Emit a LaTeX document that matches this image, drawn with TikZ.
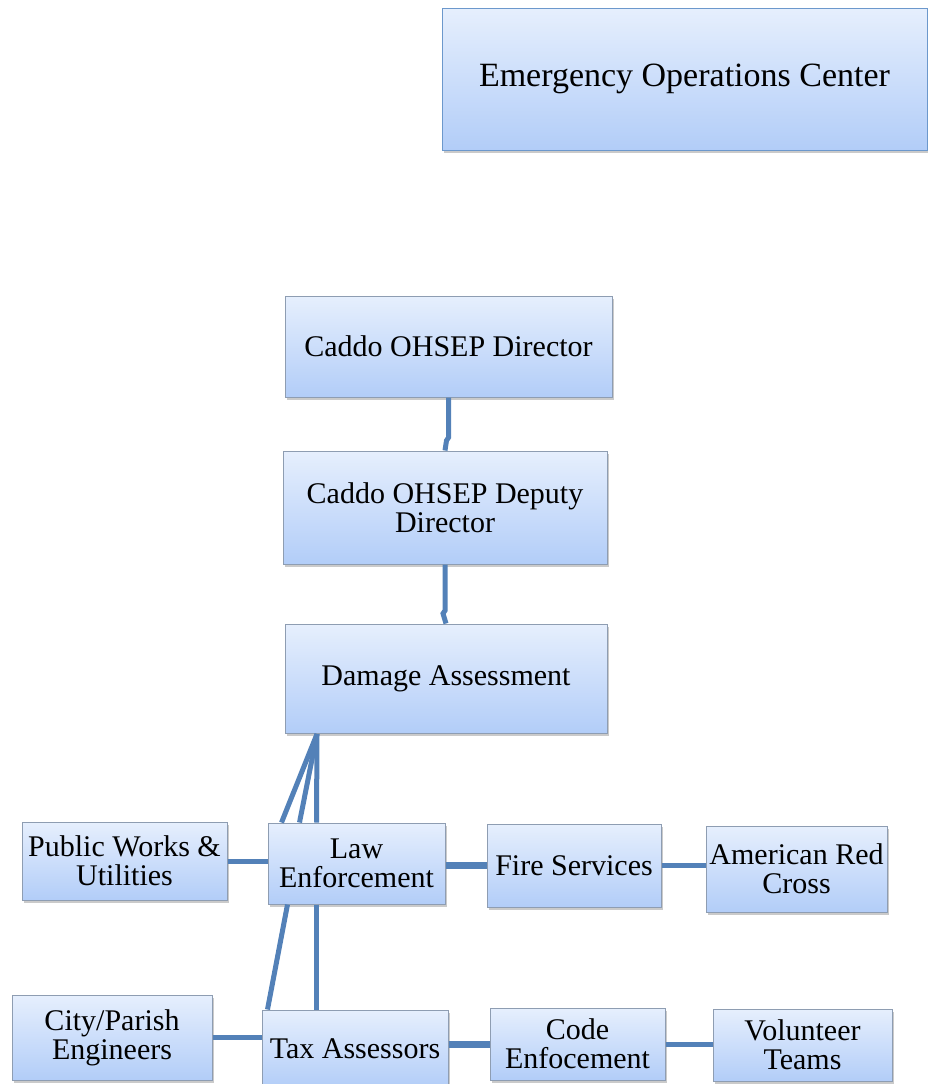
\documentclass[tikz,border=0pt]{standalone}
\usepackage{fontspec}
\setmainfont{Liberation Serif}
\usetikzlibrary{shadows}
\definecolor{conncol}{HTML}{5381B8}
\definecolor{boxtop}{HTML}{E6EFFD}
\definecolor{boxbot}{HTML}{B2CDF8}
\definecolor{boxline}{HTML}{8E9DB2}
\definecolor{eocline}{HTML}{6C98CC}
\tikzset{
  box/.style={rectangle, draw=boxline, line width=1pt, top color=boxtop, bottom color=boxbot,
    align=center, inner sep=0pt, font=\fontsize{30}{29}\selectfont,
    drop shadow={shadow xshift=1.5pt, shadow yshift=-3pt, opacity=0.35, fill=black!60}},
  conn/.style={draw=conncol, line width=5pt},
  thickconn/.style={draw=conncol, line width=7pt}
}
\begin{document}
\begin{tikzpicture}[x=1pt,y=-1pt]
\useasboundingbox (0,0) rectangle (928,1084);
% nodes
\node[box, draw=eocline, minimum width=485pt, minimum height=142pt, font=\fontsize{34}{34}\selectfont] (eoc) at (684.5,79) {Emergency Operations Center};
\node[box, minimum width=327pt, minimum height=101pt] (dir) at (448.5,346.5) {Caddo OHSEP Director};
\node[box, minimum width=324pt, minimum height=113pt] (dep) at (445,507.5) {Caddo OHSEP Deputy\\Director};
\node[box, minimum width=322pt, minimum height=109pt] (dam) at (446,678.5) {Damage Assessment};
\node[box, minimum width=205pt, minimum height=78pt] (pw) at (124.5,861) {Public Works \&\\Utilities};
\node[box, minimum width=177pt, minimum height=81pt] (law) at (356.5,863.5) {Law\\Enforcement};
\node[box, minimum width=174pt, minimum height=83pt] (fire) at (574,865.5) {Fire Services};
\node[box, minimum width=181pt, minimum height=86pt] (rc) at (796.5,869) {American Red\\Cross};
\node[box, minimum width=200pt, minimum height=85pt] (city) at (112,1037.5) {City/Parish\\Engineers};
\node[box, minimum width=186pt, minimum height=78pt] (tax) at (355,1049) {Tax Assessors};
\node[box, minimum width=175pt, minimum height=72pt] (code) at (577.5,1044) {Code\\Enfocement};
\node[box, minimum width=179pt, minimum height=72pt] (vol) at (802.5,1045) {Volunteer\\Teams};
\coordinate (dl) at (317,734);
% connectors
\draw[conn] (dir.south) -- ++(0,40) -- ++(-2,3) -- (dep.north);
\draw[conn] (dep.south) -- ++(0,46) -- ++(-2,3) -- (dam.south |- dam.north);
\draw[conn] (dl) -- ([xshift=14pt]law.north west);
\draw[conn] (dl) -- ([xshift=32pt]law.north west);
\draw[conn] (dl) -- ([xshift=49pt]law.north west);
\draw[conn] ([xshift=20pt]law.south west) -- ([xshift=6pt]tax.north west);
\draw[conn] ([xshift=49pt]law.south west) -- ([xshift=55pt]tax.north west);
\draw[conn] (pw.east) -- (pw.east -| law.west);
\draw[thickconn] (law.east |- fire.west) -- (fire.west);
\draw[conn] (fire.east) -- (fire.east -| rc.west);
\draw[conn] (city.east) -- (city.east -| tax.west);
\draw[thickconn] (tax.east |- code.west) -- (code.west);
\draw[conn] (code.east) -- (code.east -| vol.west);
\end{tikzpicture}
\end{document}
